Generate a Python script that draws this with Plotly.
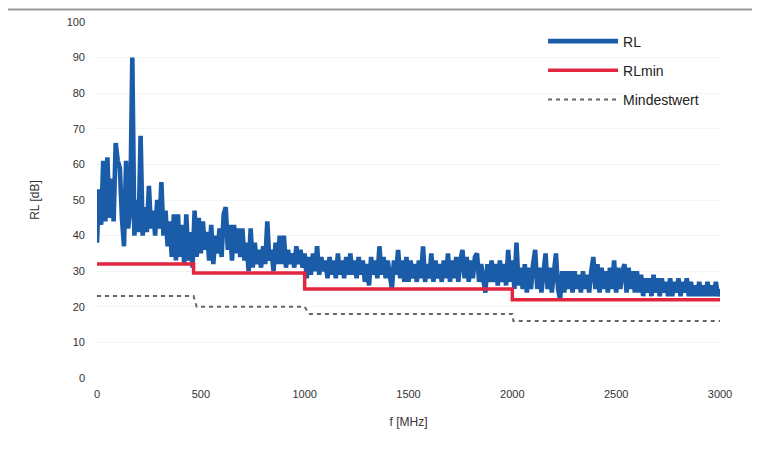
import plotly.graph_objects as go

rl_values = [
    38, 53, 43, 61, 44, 62, 45, 56, 44, 66,
    61, 59, 45, 37, 61, 42, 47, 90, 40, 50,
    41, 68, 40, 48, 41, 54, 42, 47, 40, 50,
    42, 55, 40, 47, 37, 44, 34, 46, 33, 46,
    34, 43, 32, 46, 33, 41, 31, 47, 34, 45,
    35, 44, 36, 41, 33, 43, 32, 40, 35, 42,
    34, 46, 48, 36, 43, 33, 43, 35, 42, 34,
    42, 33, 38, 30, 42, 31, 38, 32, 36, 31,
    37, 32, 44, 33, 36, 30, 38, 32, 40, 32,
    40, 31, 36, 32, 35, 31, 37, 32, 36, 31,
    35, 28, 34, 29, 35, 30, 37, 29, 34, 30,
    33, 28, 34, 29, 33, 28, 35, 29, 33, 28,
    34, 29, 35, 29, 33, 28, 34, 29, 33, 27,
    32, 26, 34, 29, 33, 28, 37, 29, 34, 28,
    33, 28, 25, 33, 29, 36, 28, 33, 27, 34,
    27, 33, 28, 32, 27, 33, 28, 37, 27, 32,
    28, 35, 27, 33, 28, 32, 27, 33, 28, 35,
    27, 33, 28, 34, 27, 33, 36, 28, 34, 27,
    33, 28, 34, 35, 27, 32, 27, 24, 32, 27,
    33, 27, 32, 26, 33, 27, 32, 26, 36, 27,
    33, 25, 38, 26, 31, 25, 32, 24, 31, 25,
    32, 36, 25, 31, 24, 31, 35, 25, 31, 24,
    31, 35, 25, 22, 30, 24, 30, 25, 30, 24,
    30, 25, 29, 24, 30, 25, 29, 24, 30, 34,
    25, 32, 24, 31, 25, 30, 24, 31, 25, 33,
    24, 31, 25, 30, 32, 24, 31, 25, 30, 24,
    30, 24, 29, 23, 28, 24, 28, 23, 29, 24,
    28, 23, 28, 24, 27, 23, 28, 23, 27, 24,
    28, 23, 27, 24, 28, 23, 27, 23, 26, 23,
    27, 23, 26, 23, 27, 23, 26, 23, 27, 23,
    25,
]
rl_freq = [i * 10 for i in range(len(rl_values))]

# RLmin step limit
rlmin_freq = [0, 465, 465, 1000, 1000, 2000, 2000, 3000]
rlmin_values = [32, 32, 29.5, 29.5, 25, 25, 22, 22]

# Mindestwert step limit
mind_freq = [0, 465, 480, 1000, 1020, 2000, 2005, 3000]
mind_values = [23, 23, 20, 20, 18, 18, 16, 16]

x_ticks = [0, 500, 1000, 1500, 2000, 2500, 3000]
y_ticks = list(range(0, 101, 10))

fig = go.Figure()
fig.add_trace(go.Scatter(
    x=rl_freq, y=rl_values, mode="lines", name="RL",
    line=dict(color="#1b5ca8", width=4.6), legendgroup="a"))
fig.add_trace(go.Scatter(
    x=rlmin_freq, y=rlmin_values, mode="lines", name="RLmin",
    line=dict(color="#e2263f", width=3.5), legendgroup="b"))
fig.add_trace(go.Scatter(
    x=mind_freq, y=mind_values, mode="lines", name="Mindestwert",
    line=dict(color="#666666", width=2, dash="4px,4px"), legendgroup="c"))

fig.update_layout(
    width=760, height=459,
    margin=dict(l=89, r=48, t=14, b=89),
    paper_bgcolor="white", plot_bgcolor="white",
    font=dict(family="Liberation Sans, Arial, sans-serif", size=11, color="#333333"),
    showlegend=True,
    legend=dict(
        x=0.716, y=0.99, xanchor="left", yanchor="top",
        font=dict(size=14, color="#222222"),
        bgcolor="rgba(0,0,0,0)", itemwidth=70, tracegroupgap=8,
    ),
    xaxis=dict(
        range=[0, 3000], tickvals=x_ticks, showgrid=False, zeroline=False,
        showline=False, ticks="", ticklabelstandoff=8, automargin=False,
        tickfont=dict(color="#333333"),
        title=dict(text="f [MHz]", standoff=18, font=dict(size=12, color="#333333")),
    ),
    yaxis=dict(
        range=[0, 100], tickvals=y_ticks, showgrid=True, gridcolor="#f4f4f4",
        zeroline=False, showline=False, ticks="", ticklabelstandoff=11,
        automargin=False, tickfont=dict(color="#333333"),
        title=dict(text="RL [dB]", standoff=24, font=dict(size=12, color="#333333")),
    ),
    shapes=[dict(type="line", xref="paper", yref="paper",
                 x0=-0.15, x1=1.1, y0=1.035, y1=1.035,
                 line=dict(color="#9a9a9a", width=2))],
)

fig.write_html("out.html")
